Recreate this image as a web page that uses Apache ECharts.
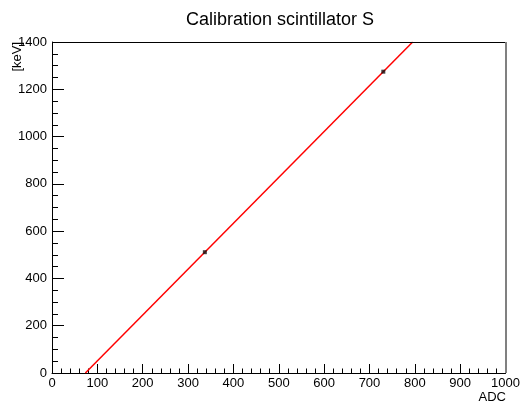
<!DOCTYPE html>
<html>
<head>
<meta charset="utf-8">
<script src="https://cdn.jsdelivr.net/npm/echarts@6/dist/echarts.min.js"></script>
<style>
  html, body { margin: 0; padding: 0; background: #fff; }
  #chart { width: 523px; height: 405px; }
</style>
</head>
<body>
<div id="chart"></div>
<script>
// Calibration points (ADC channel -> energy in keV)
const calibADC = [337, 730.5];
const calibKeV = [511, 1274.5];

// Linear fit line endpoints inside the frame
const fitADC = [73.6, 795.2];
const fitKeV = [0, 1400];

const xTicks = [0, 1000, 100];   // min, max, step
const yTicks = [0, 1400, 200];

const FONT = '"Liberation Sans", Arial, Helvetica, sans-serif';

const chart = echarts.init(document.getElementById('chart'), null, { renderer: 'canvas' });

const pointData = calibADC.map((x, i) => [x, calibKeV[i]]);
const lineData = fitADC.map((x, i) => [x, fitKeV[i]]);
const plain = v => String(v);

chart.setOption({
  animation: false,
  backgroundColor: '#ffffff',
  title: {
    text: 'Calibration scintillator S',
    left: 181,
    top: 6,
    textStyle: { fontFamily: FONT, fontSize: 18, fontWeight: 'normal', color: '#000' }
  },
  grid: { left: 52, right: 17, top: 42, bottom: 32 },
  xAxis: {
    type: 'value',
    min: xTicks[0], max: xTicks[1], interval: xTicks[2],
    axisLine: { show: true, onZero: false, lineStyle: { color: '#000', width: 1 } },
    axisTick: { show: true, inside: true, length: 9, lineStyle: { color: '#000' } },
    minorTick: { show: true, splitNumber: 5, length: 4.5, lineStyle: { color: '#000' } },
    splitLine: { show: false },
    axisLabel: { fontFamily: FONT, fontSize: 13, color: '#000', margin: 4, formatter: plain }
  },
  yAxis: {
    type: 'value',
    min: yTicks[0], max: yTicks[1], interval: yTicks[2],
    axisLine: { show: true, onZero: false, lineStyle: { color: '#000', width: 1 } },
    axisTick: { show: true, inside: true, length: 12, lineStyle: { color: '#000' } },
    minorTick: { show: true, splitNumber: 4, length: 6, lineStyle: { color: '#000' } },
    splitLine: { show: false },
    axisLabel: { fontFamily: FONT, fontSize: 13, color: '#000', margin: 5, formatter: plain }
  },
  graphic: [
    {
      type: 'text',
      right: 17, top: 391,
      style: { text: 'ADC', font: '13px ' + FONT, fill: '#000' }
    },
    {
      type: 'text',
      x: 11, y: 42,
      rotation: Math.PI / 2,
      style: { text: '[keV]', font: '13px ' + FONT, fill: '#000', align: 'right', verticalAlign: 'top' }
    },
    {
      type: 'line',
      shape: { x1: 52, y1: 42.5, x2: 506, y2: 42.5 },
      style: { stroke: '#000', lineWidth: 1 },
      z: 10
    },
    {
      type: 'line',
      shape: { x1: 506, y1: 42, x2: 506, y2: 373 },
      style: { stroke: '#808080', lineWidth: 2 },
      z: 10
    }
  ],
  series: [
    {
      type: 'line',
      data: lineData,
      showSymbol: false,
      clip: true,
      lineStyle: { color: '#ff0000', width: 1.5 },
      z: 2
    },
    {
      type: 'scatter',
      data: pointData,
      symbol: 'rect',
      symbolSize: 4,
      itemStyle: { color: '#111' },
      z: 3
    }
  ]
});
</script>
</body>
</html>
